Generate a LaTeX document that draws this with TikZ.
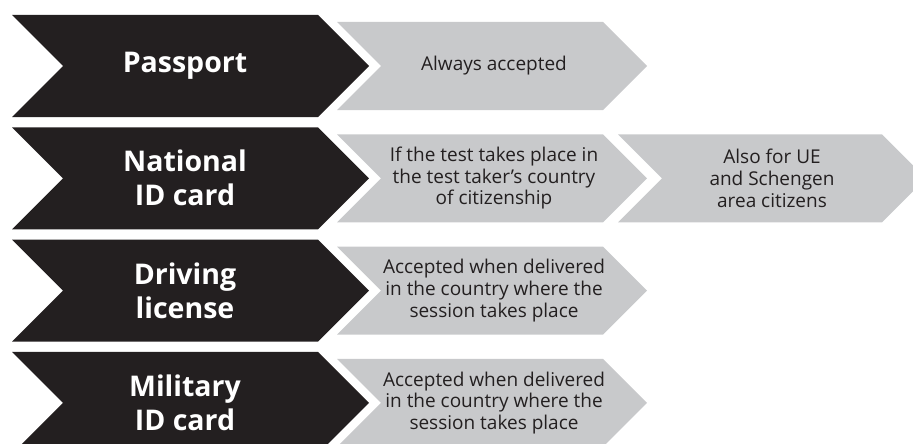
\documentclass[tikz,border=0pt]{standalone}
\usepackage{fontspec}
\setmainfont{Open Sans}

\definecolor{docblack}{HTML}{231F20}
\definecolor{docgrey}{HTML}{C8C9CB}

% chevron: colour, left x, centre y, body width, height
\newcommand{\chevshape}[5]{%
	\fill [#1] (#2,#3-#5/2) -- ++(#4,0) -- ++(#5/2,#5/2) -- ++(-#5/2,#5/2)
		-- ++(-#4,0) -- ++(#5/2,-#5/2) -- cycle;
}

\begin{document}
\begin{tikzpicture}[x=1pt,y=-1pt,
	doclabel/.style={white,align=center,font=\bfseries\fontsize{28.5}{34}\selectfont},
	condlabel/.style={docblack,align=center,font=\fontsize{19}{21.7}\selectfont}]

\clip (0,0) rectangle (913,444);
\useasboundingbox (0,0) rectangle (913,444);

\foreach \i/\dname/\dtext in {
	0/Passport/{Always accepted},
	1/{National\\ID card}/{If the test takes place in\\the test taker’s country\\of citizenship},
	2/{Driving\\license}/{Accepted when delivered\\in the country where the\\session takes place},
	3/{Military\\ID card}/{Accepted when delivered\\in the country where the\\session takes place}} {

	\pgfmathsetmacro{\yc}{66+112.3*\i}

	\chevshape{docblack}{12}{\yc}{306}{102}
	\chevshape{docgrey}{337}{\yc}{266}{88}

	\node [doclabel] (d\i) at (185,\yc) {\dname};
	\node [condlabel] (c\i) at (494,\yc) {\dtext};
}

\chevshape{docgrey}{618}{178.3}{264}{88}
\node [condlabel] (e1) at (772,178.3) {Also for UE\\and Schengen\\area citizens};

\end{tikzpicture}
\end{document}
